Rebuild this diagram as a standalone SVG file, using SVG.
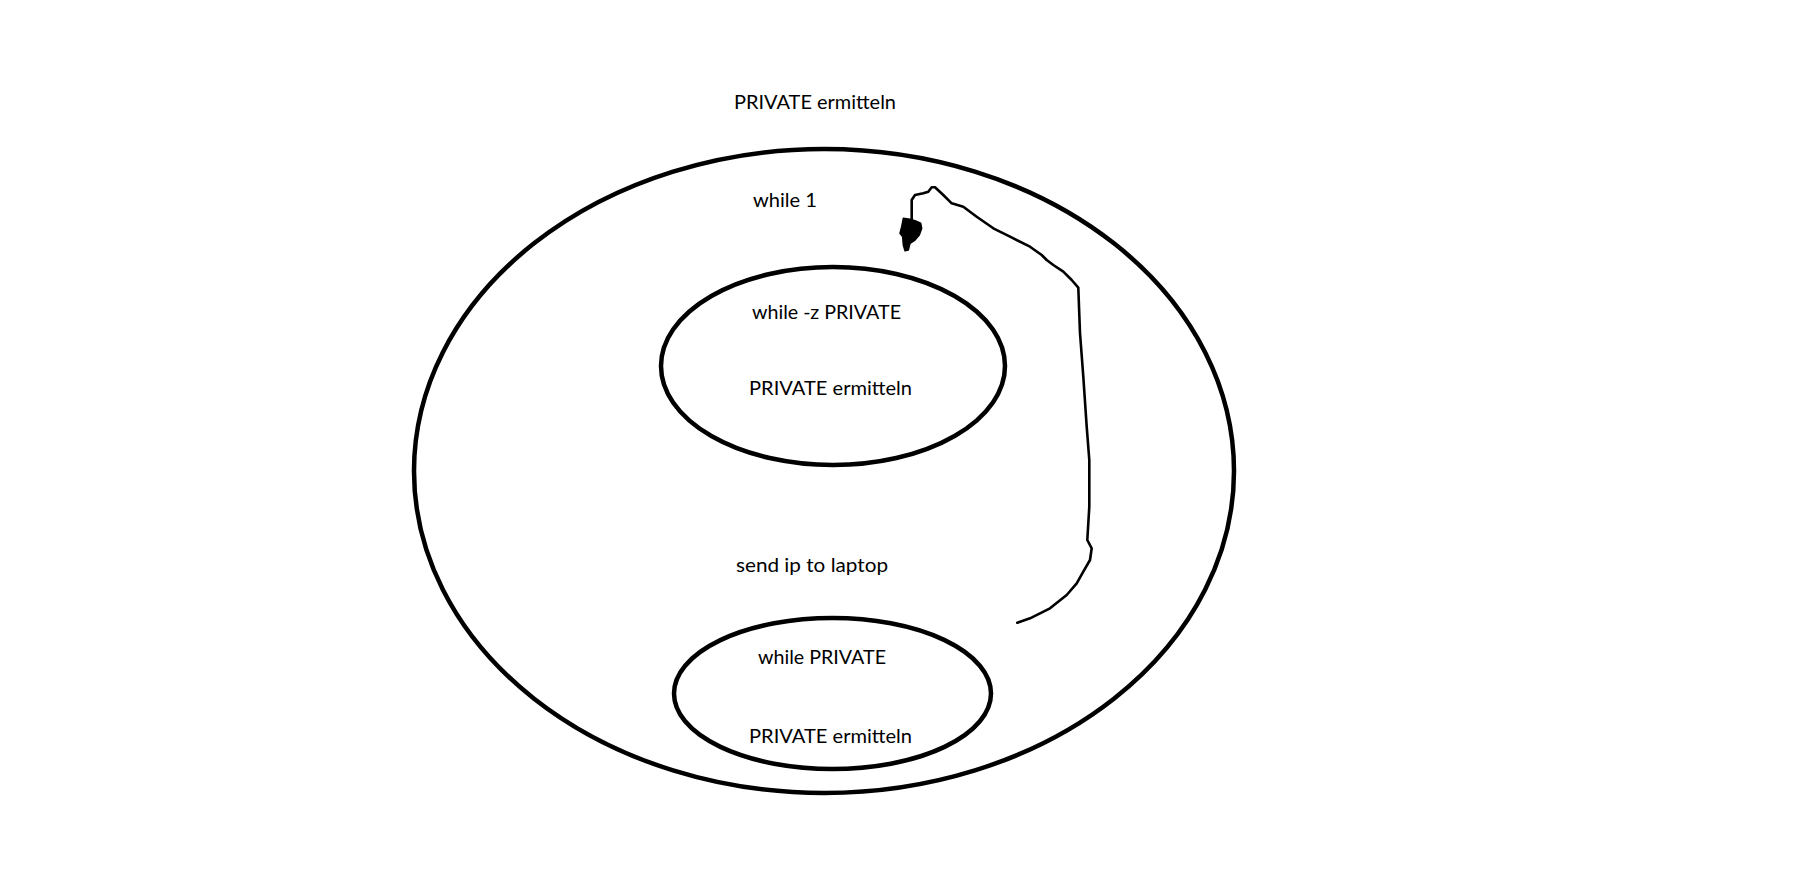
<svg xmlns="http://www.w3.org/2000/svg" width="1805" height="893" viewBox="0 0 1805 893">
  <style>
    .node ellipse { fill: none; stroke: #000; stroke-width: 4.5; }
    .lbl { font-family: Lato, "Open Sans", "Liberation Sans", sans-serif; font-size: 20px; fill: #000; }
    .conn { fill: none; stroke: #000; stroke-width: 2.6; stroke-linejoin: round; stroke-linecap: round; }
    .head { fill: #000; stroke: #000; stroke-width: 1.5; stroke-linejoin: round; }
  </style>
  <rect width="1805" height="893" fill="#fff"/>
  <text id="title" class="lbl" x="734" y="109" textLength="162" lengthAdjust="spacingAndGlyphs">PRIVATE ermitteln</text>
  <g id="outer" class="node">
    <ellipse cx="824" cy="471" rx="410" ry="322"/>
    <text class="lbl" x="753" y="207" textLength="64" lengthAdjust="spacingAndGlyphs">while 1</text>
    <text class="lbl" x="736" y="572" textLength="152" lengthAdjust="spacingAndGlyphs">send ip to laptop</text>
  </g>
  <g id="inner-top" class="node">
    <ellipse cx="833" cy="366" rx="172" ry="99"/>
    <text class="lbl" x="752" y="319" textLength="149" lengthAdjust="spacingAndGlyphs">while -z PRIVATE</text>
    <text class="lbl" x="749" y="395" textLength="163" lengthAdjust="spacingAndGlyphs">PRIVATE ermitteln</text>
  </g>
  <g id="inner-bottom" class="node">
    <ellipse cx="832.5" cy="693.5" rx="158.5" ry="75.5"/>
    <text class="lbl" x="758" y="664" textLength="128" lengthAdjust="spacingAndGlyphs">while PRIVATE</text>
    <text class="lbl" x="749" y="743" textLength="163" lengthAdjust="spacingAndGlyphs">PRIVATE ermitteln</text>
  </g>
  <g id="connectors">
    <path class="conn" d="M1017.3,622.7 L1030,618.3 L1050,608.3 L1066.7,595 L1076.7,583.3 L1083.3,571.7 L1090,560 L1091.7,548.3 L1087.3,540 L1089.3,506.7 L1089.3,460 L1086.7,426.7 L1083.3,376.7 L1080,333 L1078.3,287.7 L1071.7,280 L1063.3,271.7 L1053.3,265 L1046.7,260 L1041.7,255 L1030,246.7 L1010,236.7 L993.3,228.3 L976.7,216.7 L963.3,206.7 L951.7,203.3 L943.3,195 L935,187.3 L931.7,187.3 L928.3,191.7 L923.3,193.3 L915,195 L911.7,200 L911.7,220"/>
    <path class="head" d="M903.3,218.3 L910,219.3 L915,220.7 L920.7,223.3 L921.7,228.3 L919.3,235 L915,240 L910,243.3 L908.3,250 L905,250.7 L903.3,245 L902.7,236.7 L900,233.3 L901.7,226.7 Z"/>
  </g>
</svg>
